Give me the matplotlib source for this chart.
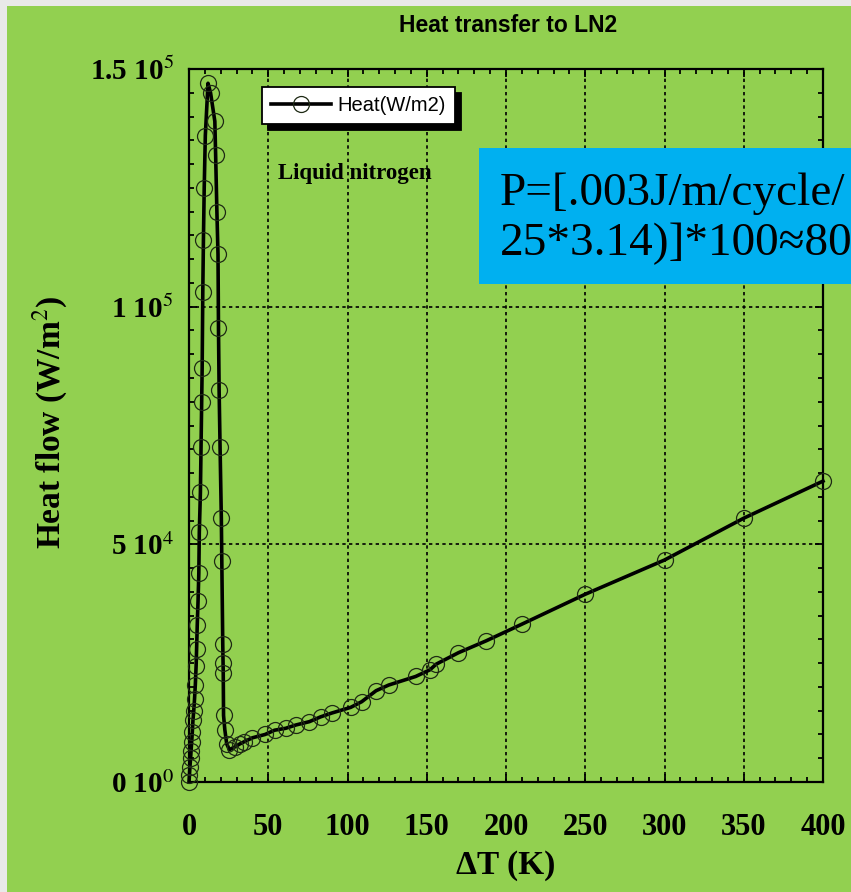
import matplotlib.pyplot as plt
from matplotlib.patches import Rectangle
from matplotlib.ticker import MultipleLocator

# data
dT = [0, 0.3, 0.6, 1.0, 1.3, 1.7, 2.1, 2.5, 3.0, 3.5, 4.0, 4.5, 4.8, 5.2, 5.7,
      6.2, 6.5, 7.2, 7.6, 8.0, 8.3, 8.7, 9.1, 9.6, 10.3, 12.0,
      13.6, 16.3, 16.8, 17.6, 18.3, 18.6, 19.0, 19.6, 20.4, 20.7, 21.3, 21.5,
      21.6, 21.8, 22.6, 23.8, 25.5,
      29, 32, 35, 40, 48, 54, 61, 67.5, 76, 83, 90, 102, 109, 118, 126, 143,
      152, 156, 170, 187.5, 210, 250, 300, 350, 400]
heat = [0, 1500, 3200, 5000, 6500, 8500, 10500, 13000, 15000, 17500, 20500,
        24500, 28000, 33000, 38000, 44000, 52500, 61000, 70500, 80000, 87000,
        103000, 114000, 125000, 136000, 147000,
        145000, 139000, 132000, 120000, 111000, 95500, 82500, 70500, 55500,
        46500, 29000, 25000, 23000, 14000, 11000, 8000, 6800,
        7400, 8000, 8500, 9300, 10000, 10900, 11300, 12000, 12700, 13700,
        14500, 15700, 16900, 19200, 20400, 22200, 23600, 24800, 27200, 29700,
        33200, 39500, 46700, 55500, 63300]

xticks = [0, 50, 100, 150, 200, 250, 300, 350, 400]
yticks = [0, 50000, 100000, 150000]
ylabels = [r'0 10$^{0}$', r'5 10$^{4}$', r'1 10$^{5}$', r'1.5 10$^{5}$']

plt.rcParams['mathtext.fontset'] = 'stix'
green = '#92d050'

fig = plt.figure(figsize=(8.51, 8.92), dpi=100, facecolor='#e9e9e9')
fig.patches.append(Rectangle((7 / 851, 0), 1, 1 - 6 / 892, transform=fig.transFigure,
                             facecolor=green, edgecolor='none', zorder=-1))

ax = fig.add_axes([189 / 851, 1 - 782 / 892, 634 / 851, 713 / 892])
ax.set_facecolor('none')

ax.plot(dT, heat, color='black', lw=2.6, marker='o', ms=11.5, mfc='none',
        mec='#1e2a14', mew=0.9, clip_on=False, zorder=3, label='Heat(W/m2)')

ax.set_xlim(0, 400)
ax.set_ylim(0, 150000)
ax.set_xticks(xticks)
ax.set_yticks(yticks)
ax.set_yticklabels(ylabels)
ax.xaxis.set_minor_locator(MultipleLocator(10))
ax.yaxis.set_minor_locator(MultipleLocator(5000))
ax.tick_params(which='both', direction='in', top=True, right=True, width=1.3)
ax.tick_params(which='major', length=6)
ax.tick_params(which='minor', length=3.5)
ax.tick_params(axis='x', pad=22)
ax.tick_params(axis='y', pad=11)
for lab in ax.get_xticklabels():
    lab.set_family('Liberation Serif')
    lab.set_weight('bold')
    lab.set_size(22)
for lab in ax.get_yticklabels():
    lab.set_family('Liberation Serif')
    lab.set_weight('bold')
    lab.set_size(21)
for sp in ax.spines.values():
    sp.set_linewidth(1.6)

ax.grid(True, which='major', color='black', ls=(0, (2, 2)), lw=1.2)

ax.set_xlabel('ΔT (K)', family='Liberation Serif', weight='bold', size=24)
ax.xaxis.set_label_coords(0.5, -0.095)
ax.set_ylabel('Heat flow (W/m$^{2}$)', family='Liberation Serif', weight='bold', size=24)
ax.yaxis.set_label_coords(-0.188, 0.505)

fig.text(508 / 851, 1 - 26 / 892, 'Heat transfer to LN2', family='Liberation Sans',
         weight='bold', size=16.5, ha='center', va='center')

ax.text(0.14, 0.854, 'Liquid nitrogen', transform=ax.transAxes, family='Liberation Serif',
        weight='bold', size=16.5, va='center', zorder=4)

leg = ax.legend(loc='upper left', bbox_to_anchor=(0.115, 0.975), borderaxespad=0,
                numpoints=1, handlelength=3.0, handletextpad=0.3, fancybox=False,
                framealpha=1, edgecolor='black', borderpad=0.45,
                prop={'family': 'Liberation Sans', 'size': 14.5},
                shadow={'ox': 4.5, 'oy': -4.5, 'facecolor': 'black', 'edgecolor': 'black', 'alpha': 1})
leg.get_frame().set_linewidth(1.3)

# blue note box, cut by the right edge
fig.patches.append(Rectangle((479 / 851, 1 - 284 / 892), 1, 136 / 892, transform=fig.transFigure,
                             facecolor='#00b0f0', edgecolor='none', zorder=5))
fig.text(500 / 851, 1 - 205 / 892, 'P=[.003J/m/cycle/', family='Liberation Serif',
         size=34, va='baseline', zorder=6)
fig.text(500 / 851, 1 - 255 / 892, '25*3.14)]*100≈80', family='Liberation Serif',
         size=34, va='baseline', zorder=6)

fig.savefig('out.png', dpi=100, facecolor=fig.get_facecolor())
